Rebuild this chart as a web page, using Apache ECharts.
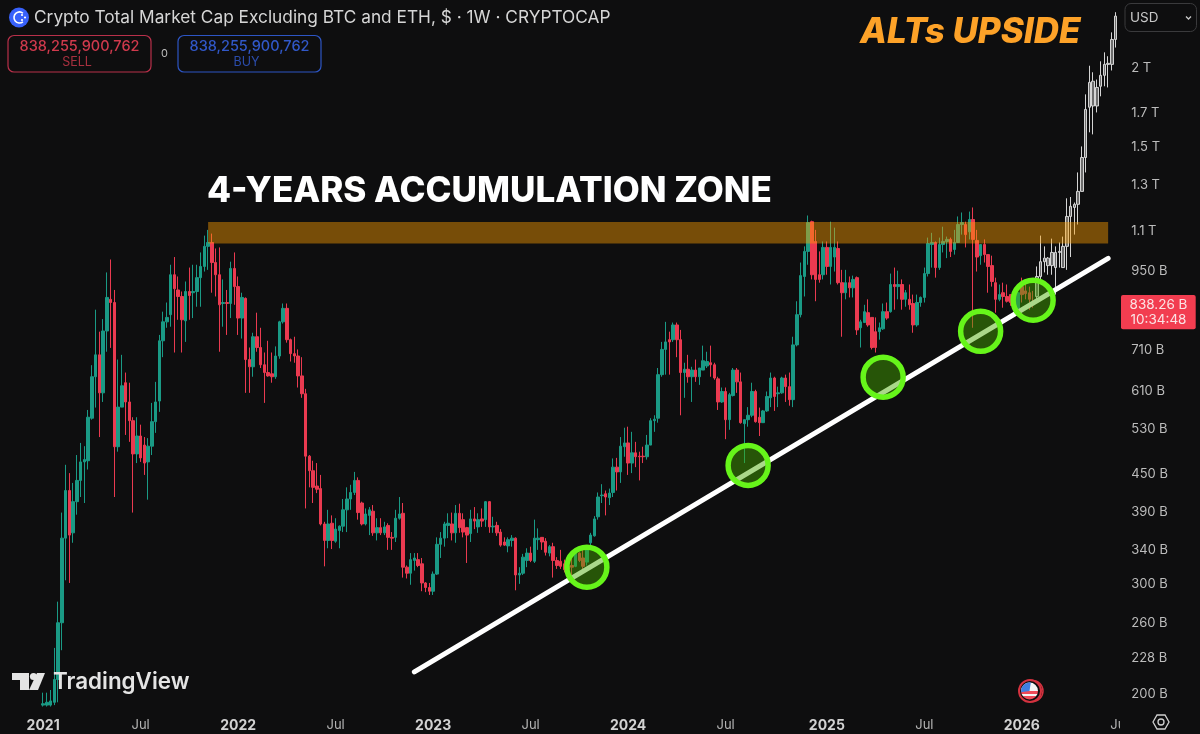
<!DOCTYPE html>
<html><head><meta charset="utf-8">
<style>html,body{margin:0;padding:0;background:#0e0e0f}#c{width:1200px;height:734px}</style>
<script src="https://cdn.jsdelivr.net/npm/echarts@6/dist/echarts.min.js"></script>
</head><body><div id="c"></div>
<script>
// Weekly candles in billions of USD, from first week of 2021. Last ones are the projected ghost bars.
const opens=[192,192,192,194,211,260,355,423,362,406,
439,470,472,552,643,697,606,761,855,845,
497,575,629,586,547,484,517,500,470,498,
545,588,734,787,808,936,885,864,790,880,
876,880,926,965,1039,1054,979,936,842,845,
842,958,896,798,858,685,667,745,716,672,
653,650,643,694,787,827,737,700,694,645,
604,480,455,430,426,374,352,375,351,365,
371,394,410,420,439,404,374,386,392,362,
369,362,372,356,356,382,389,319,312,327,
328,323,301,296,292,311,347,355,372,374,
362,389,380,369,361,381,370,381,380,406,
370,372,363,350,345,352,355,310,312,327,
336,326,353,356,351,336,344,327,326,323,
320,321,320,336,330,325,349,358,384,415,
418,412,420,461,453,497,504,468,486,480,
480,479,500,547,552,648,711,737,737,778,
737,653,661,643,659,643,659,669,677,672,
638,586,609,549,600,659,631,541,549,558,
609,554,543,567,595,640,604,606,640,620,
591,723,808,930,1020,1138,1058,936,936,1035,
965,999,1031,909,876,909,892,926,770,785,
814,800,759,759,767,817,817,903,896,903,
855,855,842,778,845,861,940,1046,1054,961,
1046,1058,1066,1027,1054,1126,1126,1096,1147,1062,
1004,1046,1008,968,909,855,876,864,870,845,
817,896,882,876,842,
864,930,982,968,968,961,1016,961,1039,1160,1199,1213,1272,1441,1734,1742,1742,1873,1950,2030,2030,2225];
const closes=[193,194,195,211,260,355,423,359,406,439,
470,474,554,643,697,606,761,861,845,497,
575,622,586,547,484,517,477,468,498,545,
586,734,787,800,936,889,864,793,880,867,
880,926,965,1039,1054,979,936,838,845,842,
958,896,798,861,685,667,745,716,672,653,
645,643,694,787,827,737,700,694,645,604,
480,455,428,425,374,352,374,352,367,371,
394,410,420,439,390,374,388,394,362,369,
362,370,356,355,382,388,319,312,328,330,
321,301,296,292,311,347,355,374,375,362,
389,369,363,359,381,378,380,378,406,370,
371,362,346,346,353,355,310,312,331,336,
327,355,355,350,337,344,327,321,320,316,
317,319,336,327,320,340,359,381,413,416,
413,419,461,453,498,504,468,486,479,479,
479,500,547,550,648,711,731,731,778,737,
653,661,643,659,643,664,682,680,672,640,
586,609,549,602,659,631,543,549,558,609,
545,543,567,598,640,598,606,640,620,591,
723,808,933,1020,1134,936,920,920,1035,965,
1035,1035,909,876,909,892,920,764,787,817,
778,716,716,770,817,798,903,896,903,855,
876,838,778,845,861,940,1050,1054,961,1046,
1058,1066,1020,1054,1126,1134,1085,1147,1066,999,
1046,1008,965,913,855,870,864,849,845,855,
876,870,873,855,838.26,
930,982,995,995,1016,1016,1020,1039,1160,1204,1213,1272,1441,1720,1900,1908,1865,1950,2030,2038,2225,2425];
const lows=[191,191,191,192,194,235,304,301,349,387,
413,404,457,549,574,515,586,705,715,413,
488,575,519,506,390,468,470,448,409,482,
523,565,691,770,773,703,793,703,731,793,
798,832,832,947,953,876,864,705,773,750,
798,838,750,740,606,606,643,705,664,584,
643,629,638,687,782,729,680,677,618,595,
396,428,404,419,372,320,342,341,349,342,
363,363,394,416,380,372,372,359,358,352,
359,359,340,340,350,380,307,306,299,315,
319,292,291,288,288,310,330,344,355,352,
349,362,356,324,350,367,362,370,370,362,
362,358,344,345,337,344,293,300,310,319,
325,324,340,340,333,332,307,317,317,313,
307,307,319,325,314,321,340,357,380,404,
386,401,413,423,435,479,448,451,461,439,
468,474,504,525,543,643,648,648,731,691,
558,595,629,586,631,624,659,664,643,636,
569,584,511,529,598,606,541,468,535,554,
543,517,543,565,575,567,575,604,586,578,
575,719,800,864,971,920,849,909,920,936,
903,947,903,745,855,861,861,750,716,785,
773,711,703,737,764,793,814,823,855,823,
832,823,756,773,832,845,930,961,926,953,
1016,995,999,1008,1054,1085,1035,1066,770,947,
971,979,876,896,814,849,829,845,835,823,
808,845,855,823,829,
845,909,944,936,936,870,961,961,953,999,1085,1126,1272,1364,1581,1569,1701,1805,1873,1865,1985,2160];
const highs=[201,201,203,237,281,390,465,451,435,482,
504,498,569,671,823,759,795,944,990,885,
685,697,653,629,554,554,539,515,513,584,
631,750,817,845,971,999,930,880,913,961,
971,971,1016,1081,1104,1089,1031,1035,920,885,
982,1016,930,876,861,716,756,814,770,703,
734,703,719,790,842,842,740,745,711,691,
615,482,472,468,448,377,394,386,382,372,
410,428,432,453,444,406,396,398,401,382,
382,377,375,363,394,413,404,321,336,336,
336,330,302,301,314,356,363,377,389,390,
401,403,389,370,394,398,389,396,407,407,
384,377,367,356,356,359,356,319,335,342,
344,380,368,356,355,346,349,331,340,328,
327,331,337,337,340,342,362,385,420,433,
423,426,476,477,515,533,535,525,506,488,
497,519,552,558,664,731,787,759,785,785,
764,677,697,667,685,664,721,705,721,677,
643,618,618,606,664,664,653,549,575,629,
613,574,569,609,653,643,620,643,648,653,
745,849,979,1039,1164,1142,1104,1020,1058,1058,
1138,1113,1058,953,953,930,933,930,793,838,
855,800,800,785,842,845,940,961,950,920,
885,903,870,870,864,961,1073,1092,1058,1073,
1117,1077,1073,1104,1160,1177,1138,1181,1199,1104,
1046,1066,1008,1004,926,903,909,903,870,870,
885,926,913,896,882,
965,1081,1039,999,1069,1039,1054,1077,1240,1246,1221,1364,1501,1818,2020,1972,1920,2053,2122,2092,2284,2460];
const firstGhostWeek=265;
const priceTicks=[200,228,260,300,340,390,450,530,610,710,950,1100,1300,1500,1700,2000];
const dateTickWeeks=[0,26,52,78,104,130,156,182,209,235,261,287];
const dateTickLabels=['2021','Jul','2022','Jul','2023','Jul','2024','Jul','2025','Jul','2026','Jul'];
const bandPrices=[1050,1136];
const bandWeeks=[44,284];
const trendWeeks=[99,284];
const trendPrices=[217,994];
const circleWeeks=[145,188,224,250,264];
const circlePrices=[319,464,642,760,852];

const leadCats=11, totalCats=299;
const cats=[];for(let i=0;i<totalCats;i++)cats.push(String(i-leadCats));
const tickCatIdx=dateTickWeeks.map(w=>w+leadCats);
const candleData=opens.map((o,i)=>{
  const item={value:[o,closes[i],lows[i],highs[i]]};
  if(i>=firstGhostWeek)item.itemStyle={color:'#6d6d6d',color0:'#6d6d6d',borderColor:'#d4d4d4',borderColor0:'#d4d4d4',borderWidth:1};
  return item;
});
const paddedCandles=new Array(leadCats).fill('-').concat(candleData);

const chart=echarts.init(document.getElementById('c'),null,{renderer:'canvas'});
const AX='#bcbcbc';
const F='Inter, sans-serif';
function T(text,x,y,font,fill,align){return {type:'text',silent:true,z:50,style:{text,x,y,font,fill,textAlign:align||'left',textVerticalAlign:'middle'}};}
const gfx=[
 {type:'rect',z:40,silent:true,shape:{x:1120,y:712,width:80,height:22},style:{fill:'#0e0e0f'}},
 {type:'circle',z:50,silent:true,shape:{cx:19,cy:17.5,r:10},style:{fill:'#3861fb'}},
 {type:'arc',z:51,silent:true,shape:{cx:19.5,cy:17.5,r:5.5,startAngle:0.9,endAngle:5.4},style:{stroke:'#fff',lineWidth:1.6,fill:'none'}},
 {type:'circle',z:51,silent:true,shape:{cx:22,cy:15,r:1.1},style:{fill:'#fff'}},
 {type:'circle',z:51,silent:true,shape:{cx:25,cy:17.5,r:1.1},style:{fill:'#fff'}},
 {type:'circle',z:51,silent:true,shape:{cx:22,cy:20,r:1.1},style:{fill:'#fff'}},
 T('Crypto Total Market Cap Excluding BTC and ETH, $ · 1W · CRYPTOCAP',34,17.5,'400 17.3px '+F,'#d6d6d6'),
 {type:'rect',z:50,silent:true,shape:{x:8,y:35.5,width:143,height:36.5,r:6},style:{fill:'none',stroke:'#b8304a',lineWidth:1.2}},
 T('838,255,900,762',79.5,46.5,'500 14.5px '+F,'#d03a4d','center'),
 T('SELL',77,62,'400 12.5px '+F,'#a8303f','center'),
 T('0',164.5,54,'400 11px '+F,'#bdbdbd','center'),
 {type:'rect',z:50,silent:true,shape:{x:178,y:35.5,width:143,height:36.5,r:6},style:{fill:'none',stroke:'#2d55c4',lineWidth:1.2}},
 T('838,255,900,762',249.5,46.5,'500 14.5px '+F,'#3158c8','center'),
 T('BUY',246.5,62,'400 12.5px '+F,'#2b4cab','center'),
 T('4-YEARS ACCUMULATION ZONE',207,191,'800 35px '+F,'#ffffff'),
 T('ALTs UPSIDE',860,32,'italic 800 35px '+F,'#fda228'),
 {type:'polygon',z:50,silent:true,shape:{points:[[12,673],[29,673],[29,690],[20,690],[20,680],[12,680]]},style:{fill:'#e4e4e4'}},
 {type:'circle',z:50,silent:true,shape:{cx:33.5,cy:676.5,r:3.6},style:{fill:'#e4e4e4'}},
 {type:'polygon',z:50,silent:true,shape:{points:[[37,673],[45,673],[38,690],[29,690]]},style:{fill:'#e4e4e4'}},
 T('TradingView',53,682,'600 22.4px '+F,'#e4e4e4'),
 {type:'rect',z:50,silent:true,shape:{x:1125,y:3.5,width:71.5,height:28,r:6},style:{fill:'none',stroke:'#3a3a3c',lineWidth:1}},
 T('USD',1130,18,'400 13.5px '+F,'#c9c9c9'),
 {type:'polyline',z:50,silent:true,shape:{points:[[1186,16.5],[1188.5,19],[1191,16.5]]},style:{stroke:'#c9c9c9',lineWidth:1.3,fill:'none'}},
 {type:'rect',z:50,silent:true,shape:{x:1121,y:295,width:74.7,height:34.3,r:2},style:{fill:'#f23d50'}},
 T('838.26 B',1158.5,304.5,'400 13.5px '+F,'#fbe3e5','center'),
 T('10:34:48',1158.5,320,'400 13.5px '+F,'#fbe3e5','center'),
 {type:'polygon',z:50,silent:true,shape:{points:[[1153,722],[1157,715],[1165,715],[1169,722],[1165,729],[1157,729]]},style:{fill:'none',stroke:'#d0d0d0',lineWidth:1.3}},
 {type:'circle',z:50,silent:true,shape:{cx:1161,cy:722,r:3},style:{fill:'none',stroke:'#d0d0d0',lineWidth:1.3}},
 {type:'circle',z:50,silent:true,shape:{cx:1032.5,cy:691,r:10.5},style:{fill:'#0e0e0f',stroke:'#d4323f',lineWidth:1.5}},
 {type:'circle',z:50,silent:true,shape:{cx:1030,cy:691,r:11},style:{fill:'#0e0e0f',stroke:'#d4323f',lineWidth:2}},
 {type:'circle',z:51,silent:true,shape:{cx:1029.5,cy:691,r:8.5},style:{fill:{type:'linear',x:0,y:0,x2:0,y2:1,colorStops:[
   {offset:0,color:'#f5f5f5'},{offset:.52,color:'#f5f5f5'},{offset:.52,color:'#ef4b58'},{offset:.68,color:'#ef4b58'},{offset:.68,color:'#f5f5f5'},{offset:.8,color:'#f5f5f5'},{offset:.8,color:'#ef4b58'},{offset:1,color:'#ef4b58'}]}}},
 {type:'sector',z:52,silent:true,shape:{cx:1029.5,cy:691,r:8.5,r0:0,startAngle:Math.PI*0.95,endAngle:Math.PI*1.55},style:{fill:'#3f7fe0'}}
];

chart.setOption({
 animation:false,backgroundColor:'#0e0e0f',
 grid:{left:0,top:0,width:totalCats*3.75,height:712,containLabel:false},
 xAxis:{type:'category',data:cats,boundaryGap:true,axisLine:{show:false},axisTick:{show:false},splitLine:{show:false},
  axisLabel:{interval:(i)=>tickCatIdx.includes(i),margin:7,fontFamily:F,fontSize:13,color:'#b4b4b4',hideOverlap:false,
   formatter:(v,i)=>{const k=tickCatIdx.indexOf(i);if(k<0)return '';const s=dateTickLabels[k];return /\d/.test(s)?'{y|'+s+'}':s;},
   rich:{y:{fontWeight:700,fontFamily:F,fontSize:14,color:'#d2d2d2'}}}},
 yAxis:{type:'log',logBase:10,min:187.2,max:2573,position:'right',axisLine:{show:false},axisTick:{show:false},splitLine:{show:false},
  axisLabel:{customValues:priceTicks,margin:10,fontFamily:F,fontSize:13,color:AX,
   formatter:(v)=>{const n=Math.round(v);return n>=1000?(n/1000)+' T':n+' B';}}},
 graphic:gfx,
 series:[
  {type:'candlestick',name:'Candles',data:paddedCandles,barWidth:3,z:2,
   itemStyle:{color:'#1a9a85',color0:'#ea3a50',borderColor:'#1a9a85',borderColor0:'#ea3a50',borderWidth:1},
   markArea:{silent:true,z:3,itemStyle:{color:'rgba(255,160,0,0.44)'},
    data:[[{xAxis:bandWeeks[0]+leadCats,yAxis:bandPrices[1]},{xAxis:bandWeeks[1]+leadCats,yAxis:bandPrices[0]}]]}},
  {type:'line',name:'Trend',z:4,showSymbol:false,symbol:'none',data:trendWeeks.map((w,i)=>[w+leadCats,trendPrices[i]]),
   lineStyle:{color:'#ffffff',width:5,cap:'round'}},
  {type:'scatter',name:'Touches',z:6,symbol:'circle',symbolSize:40,data:circleWeeks.map((w,i)=>[w+leadCats,circlePrices[i]]),
   itemStyle:{color:'rgba(70,170,0,0.46)',borderColor:'#66f51a',borderWidth:5.5,opacity:1}}
 ]
});
</script></body></html>
